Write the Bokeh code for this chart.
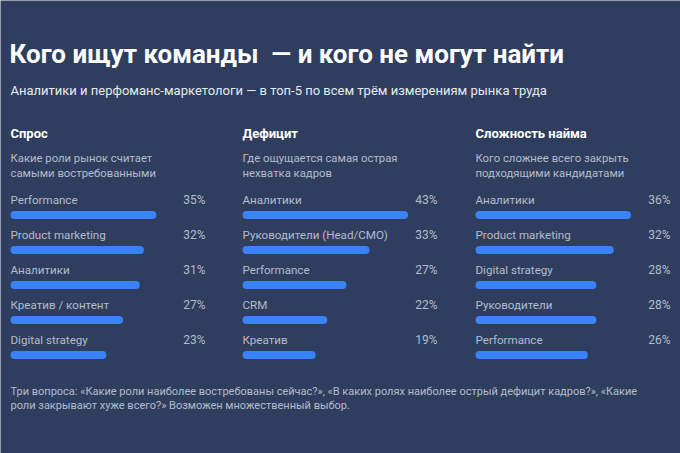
from bokeh.plotting import figure
from bokeh.models import Range1d, ColumnDataSource, Label
from bokeh.core.properties import value
from bokeh.embed import file_html
from bokeh.resources import INLINE

# --- data -------------------------------------------------------------
title = "Кого ищут команды\u00a0 — и кого не могут найти"
subtitle = "Аналитики и перфоманс-маркетологи — в топ-5 по всем трём измерениям рынка труда"

headers = ["Спрос", "Дефицит", "Сложность найма"]
descriptions = [
    ["Какие роли рынок считает", "самыми востребованными"],
    ["Где ощущается самая острая", "нехватка кадров"],
    ["Кого сложнее всего закрыть", "подходящими кандидатами"],
]

demand_roles = ["Performance", "Product marketing", "Аналитики", "Креатив / контент", "Digital strategy"]
demand_values = [35, 32, 31, 27, 23]

deficit_roles = ["Аналитики", "Руководители (Head/CMO)", "Performance", "CRM", "Креатив"]
deficit_values = [43, 33, 27, 22, 19]

difficulty_roles = ["Аналитики", "Product marketing", "Digital strategy", "Руководители", "Performance"]
difficulty_values = [36, 32, 28, 28, 26]

footnote = [
    "Три вопроса: «Какие роли наиболее востребованы сейчас?», «В каких ролях наиболее острый дефицит кадров?», «Какие",
    "роли закрывают хуже всего?» Возможен множественный выбор.",
]

# --- style ------------------------------------------------------------
W, H = 680, 453
BG = "#2f3e5e"
BAR = "#3a82f7"
WHITE = "#ffffff"
SUB = "#e6e9f0"
GREY = "#b3bccb"
FONT = "Roboto"

col_left = [10, 242, 475]          # left edge of each panel
col_right = [205, 437, 670]        # right edge for the percentages
px_per_pct = [4.17, 3.85, 4.32]    # bar length scale of each panel
row_y0, row_step = 199.5, 35       # first label row and row spacing
bar_offset = 15                    # bar centre below its label

p = figure(width=W, height=H, x_range=Range1d(0, W), y_range=Range1d(H, 0),
           output_backend="svg", toolbar_location=None, min_border=0)
p.axis.visible = False
p.grid.visible = False
p.outline_line_color = None
p.background_fill_color = BG
p.border_fill_color = BG


def label(x, y, text, size, color, bold=False, align="left"):
    p.add_layout(Label(x=x, y=y, text=text, text_font=FONT, text_font_size=f"{size}px",
                       text_color=color, text_font_style="bold" if bold else "normal",
                       text_align=align, text_baseline="middle"))


label(9, 53, title, 26, WHITE, bold=True)
label(10, 90, subtitle, 13, SUB)

panels = [(demand_roles, demand_values), (deficit_roles, deficit_values),
          (difficulty_roles, difficulty_values)]

for i, (roles, vals) in enumerate(panels):
    x0 = col_left[i]
    k = px_per_pct[i]
    rname = f"panel{i}"
    # each panel gets its own percentage scale, zero at the panel's left edge
    p.extra_x_ranges[rname] = Range1d(-x0 / k, (W - x0) / k)

    label(x0, 133, headers[i], 13, WHITE, bold=True)
    for j, line in enumerate(descriptions[i]):
        label(x0, 158 + 15 * j, line, 11.3, GREY)

    ys = [row_y0 + row_step * j for j in range(len(roles))]
    src = ColumnDataSource(dict(
        role=roles, val=vals, pct=[f"{v}%" for v in vals],
        ty=ys, by=[y + bar_offset for y in ys],
        zero=[0] * len(vals),
    ))
    p.hbar(y="by", left="zero", right="val", height=8, source=src, x_range_name=rname,
           fill_color=BAR, line_color=None, border_radius=4)
    p.text(x=x0, y="ty", text="role", source=src, text_font=value(FONT),
           text_font_size="11.6px", text_color=GREY, text_baseline="middle")
    p.text(x=col_right[i], y="ty", text="pct", source=src, text_font=value(FONT),
           text_font_size="12px", text_color=GREY, text_baseline="middle",
           text_align="right")

for j, line in enumerate(footnote):
    label(10, 391 + 14 * j, line, 11, GREY)

open("out.html", "w").write(file_html(p, INLINE))
